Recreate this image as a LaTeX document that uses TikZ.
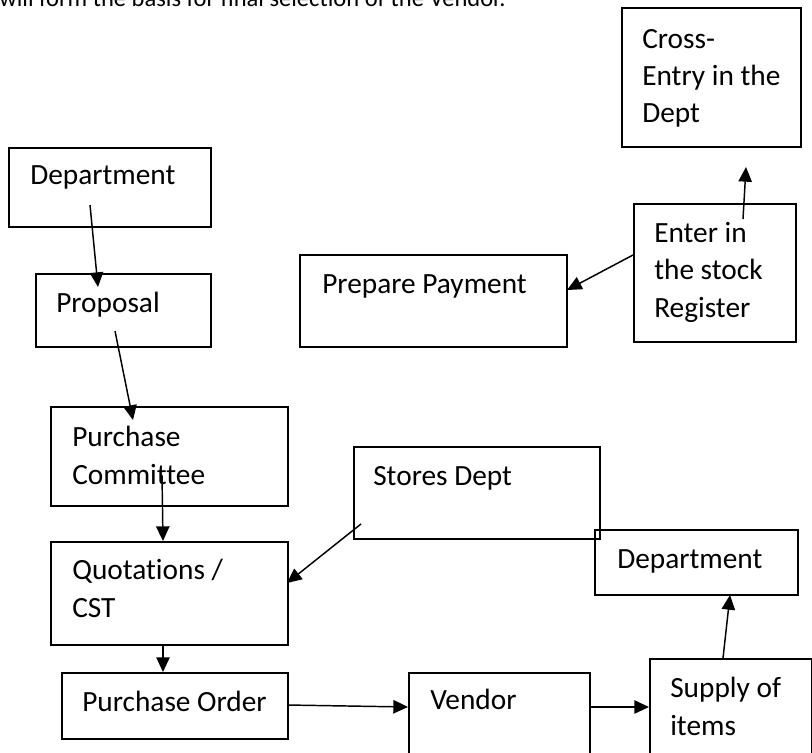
\documentclass[tikz,border=0pt]{standalone}
\usepackage{fontspec}
\setmainfont[Ligatures=NoCommon]{Carlito}
\usetikzlibrary{arrows.meta}
\begin{document}
\begin{tikzpicture}[x=0.75pt,y=-0.75pt,
  box/.style={draw, line width=1.4pt, anchor=north west, inner sep=0pt},
  sz/.style 2 args={minimum width=#1*0.75pt, minimum height=#2*0.75pt},
  txt/.style={anchor=base west, inner sep=0pt, align=left, font=\fontsize{22}{28.1}\selectfont},
  arr/.style={line width=1.1pt, -{Triangle[length=11pt,width=10pt]}}]
\useasboundingbox (0,0) rectangle (812,752);
% heading line (cut off at top)
\node[anchor=base west, inner sep=0pt, font=\fontsize{18.4}{22}\selectfont] (head) at (-1,7) {will form the basis for final selection of the Vendor.};
% boxes
\node[box, sz={202}{79}]  (dept1)  at (8,147) {};
\node[box, sz={175}{73}]  (prop)   at (35,273) {};
\node[box, sz={267}{92}]  (prep)   at (299,254) {};
\node[box, sz={237}{99}]  (pc)     at (50,406) {};
\node[box, sz={237}{103}] (quot)   at (50,541) {};
\node[box, sz={226}{66}]  (po)     at (61,672) {};
\node[box, sz={246}{92}]  (stores) at (353,446) {};
\node[box, sz={203}{65}]  (dept2)  at (594,529) {};
\node[box, sz={181}{130}] (vendor) at (408,672) {};
\node[box, sz={162}{130}] (supply) at (649,658) {};
\node[box, sz={162}{138}] (enter)  at (633,203) {};
\node[box, sz={179}{139}] (cross)  at (621,7) {};
% texts (base anchor = baseline of the last line)
\node[txt] (tdept1)  at ([shift={(22,38)}]dept1.north west) {Department};
\node[txt] (tprop)   at ([shift={(21,39)}]prop.north west) {Proposal};
\node[txt] (tprep)   at ([shift={(23,39)}]prep.north west) {Prepare Payment};
\node[txt] (tpc)     at ([shift={(22,78)}]pc.north west) {Purchase\\Committee};
\node[txt] (tquot)   at ([shift={(22,76)}]quot.north west) {Quotations /\\CST};
\node[txt] (tpo)     at ([shift={(21,39)}]po.north west) {Purchase Order};
\node[txt] (tstores) at ([shift={(20,39)}]stores.north west) {Stores Dept};
\node[txt] (tdept2)  at ([shift={(23,39)}]dept2.north west) {Department};
\node[txt] (tvendor) at ([shift={(22,37)}]vendor.north west) {Vendor};
\node[txt] (tsupply) at ([shift={(21,77)}]supply.north west) {Supply of\\items};
\node[txt] (tenter)  at ([shift={(21,114)}]enter.north west) {Enter in\\the stock\\Register};
\node[txt] (tcross)  at ([shift={(21,116)}]cross.north west) {Cross-\\Entry in the\\Dept};
% connectors
\draw[arr] ([shift={(82,58)}]dept1.north west) -- ([shift={(63,14)}]prop.north west);
\draw[arr] ([shift={(80,58)}]prop.north west) -- ([shift={(83,14)}]pc.north west);
\draw[arr] ([shift={(112,69)}]pc.north west) -- ([shift={(113,0)}]quot.north west);
\draw[arr] ([shift={(113,103)}]quot.north west) -- ([shift={(102,0)}]po.north west);
\draw[arr] ([shift={(8,78)}]stores.north west) -- ([shift={(237,42)}]quot.north west);
\draw[arr] ([shift={(226,33)}]po.north west) -- ([shift={(0,35)}]vendor.north west);
\draw[arr] ([shift={(181,35)}]vendor.north west) -- ([shift={(0,49)}]supply.north west);
\draw[arr] ([shift={(74,0)}]supply.north west) -- ([shift={(136,66)}]dept2.north west);
\draw[arr] ([shift={(110,16)}]enter.north west) -- ([shift={(125,160)}]cross.north west);
\draw[arr] ([shift={(0,52)}]enter.north west) -- ([shift={(268,36)}]prep.north west);
\end{tikzpicture}
\end{document}
